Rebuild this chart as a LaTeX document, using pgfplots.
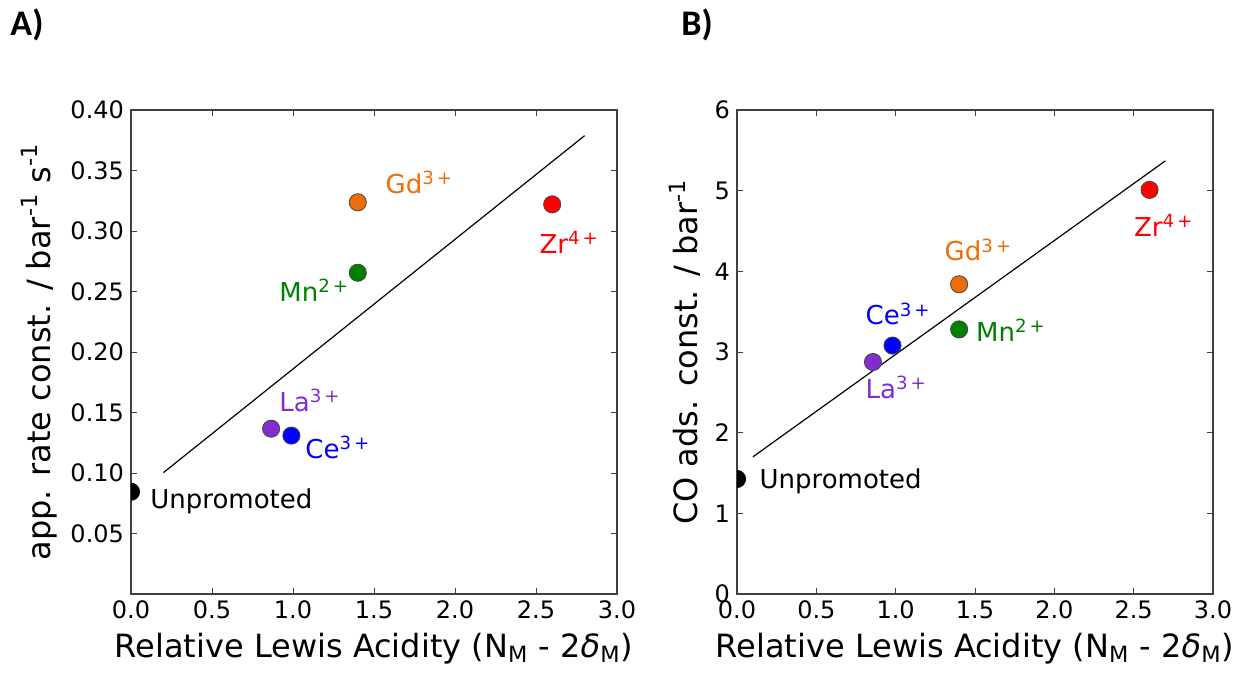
\documentclass[border=0pt]{standalone}
\usepackage{fontspec}
\setmainfont{DejaVu Sans}
\newfontfamily\panelfont{Carlito}
\usepackage{pgfplots}
\pgfplotsset{compat=1.18}
\definecolor{cGd}{RGB}{236,110,10}
\definecolor{cMn}{RGB}{0,128,0}
\definecolor{cZr}{RGB}{255,0,0}
\definecolor{cCe}{RGB}{0,0,255}
\definecolor{cLa}{RGB}{130,45,205}
\definecolor{edge}{RGB}{70,70,70}
\newcommand{\sx}[1]{\textsuperscript{#1}}
\tikzset{ann/.style={anchor=base west, font=\fontsize{13}{15}\selectfont, text=#1, inner sep=0pt}}
\pgfplotsset{
  common/.style={
    scale only axis=true,
    height=242pt,
    xmin=0, xmax=3,
    xtick={0,0.5,...,3.0},
    xticklabel style={/pgf/number format/.cd,fixed,fixed zerofill,precision=1},
    tick align=inside,
    major tick length=3pt,
    tick style={draw=black!75, line width=0.5pt},
    axis line style={draw=black!75, line width=0.7pt},
    ticklabel style={font=\fontsize{12}{14}\selectfont},
    /pgf/number format/assume math mode=true,
    label style={font=\fontsize{16}{19}\selectfont},
    xlabel={Relative Lewis Acidity (N\textsubscript{M} - 2{\itshape δ}\textsubscript{M})},
    clip mode=individual,
    clip marker paths=true,
  },
  dot/.style={only marks, mark=*, mark size=4.3pt, mark options={draw=edge, line width=0.4pt, fill=#1}},
}
\begin{document}
\begin{tikzpicture}
\useasboundingbox (0,0) rectangle (626pt,338pt);
\node[font=\panelfont\bfseries\fontsize{18}{20}\selectfont, anchor=center] at (13.5pt,325.5pt) {A)};
\node[font=\panelfont\bfseries\fontsize{18}{20}\selectfont, anchor=center] at (348.5pt,325.5pt) {B)};
\begin{axis}[common,
  at={(65.5pt,41pt)}, anchor=south west,
  width=243pt,
  ymin=0, ymax=0.40,
  ytick={0.05,0.10,...,0.40},
  yticklabel style={/pgf/number format/.cd,fixed,fixed zerofill,precision=2},
  ylabel={app. rate const. / bar\sx{-1} s\sx{-1}},
]
\addplot[black, line width=0.6pt] coordinates {(0.2,0.1003) (2.8,0.3788)};
\addplot[dot=black, mark options={draw=black}] coordinates {(0.0,0.0845)};
\addplot[dot=cGd] coordinates {(1.40,0.3237)};
\addplot[dot=cMn] coordinates {(1.40,0.2655)};
\addplot[dot=cLa] coordinates {(0.865,0.1366)};
\addplot[dot=cCe] coordinates {(0.99,0.1309)};
\addplot[dot=cZr] coordinates {(2.60,0.3220)};
\node[ann=cGd] at (axis cs:1.57,0.331) {Gd\sx{3\,+}};
\node[ann=cZr] at (axis cs:2.52,0.2816) {Zr\sx{4\,+}};
\node[ann=cMn] at (axis cs:0.914,0.2416) {Mn\sx{2\,+}};
\node[ann=cLa] at (axis cs:0.914,0.1507) {La\sx{3\,+}};
\node[ann=cCe] at (axis cs:1.074,0.1121) {Ce\sx{3\,+}};
\node[ann=black] at (axis cs:0.117,0.0708) {Unpromoted};
\end{axis}
\begin{axis}[common,
  at={(368.5pt,41pt)}, anchor=south west,
  width=238pt,
  ymin=0, ymax=6,
  ytick={0,1,...,6},
  ylabel={CO ads. const. / bar\sx{-1}},
]
\addplot[black, line width=0.6pt] coordinates {(0.1,1.70) (2.7,5.37)};
\addplot[dot=black, mark options={draw=black}] coordinates {(0.0,1.426)};
\addplot[dot=cGd] coordinates {(1.40,3.84)};
\addplot[dot=cMn] coordinates {(1.40,3.28)};
\addplot[dot=cCe] coordinates {(0.98,3.08)};
\addplot[dot=cLa] coordinates {(0.857,2.876)};
\addplot[dot=cZr] coordinates {(2.60,5.01)};
\node[ann=cZr] at (axis cs:2.50,4.43) {Zr\sx{4\,+}};
\node[ann=cGd] at (axis cs:1.306,4.13) {Gd\sx{3\,+}};
\node[ann=cCe] at (axis cs:0.808,3.335) {Ce\sx{3\,+}};
\node[ann=cMn] at (axis cs:1.505,3.128) {Mn\sx{2\,+}};
\node[ann=cLa] at (axis cs:0.808,2.426) {La\sx{3\,+}};
\node[ann=black] at (axis cs:0.14,1.31) {Unpromoted};
\end{axis}
\end{tikzpicture}
\end{document}
